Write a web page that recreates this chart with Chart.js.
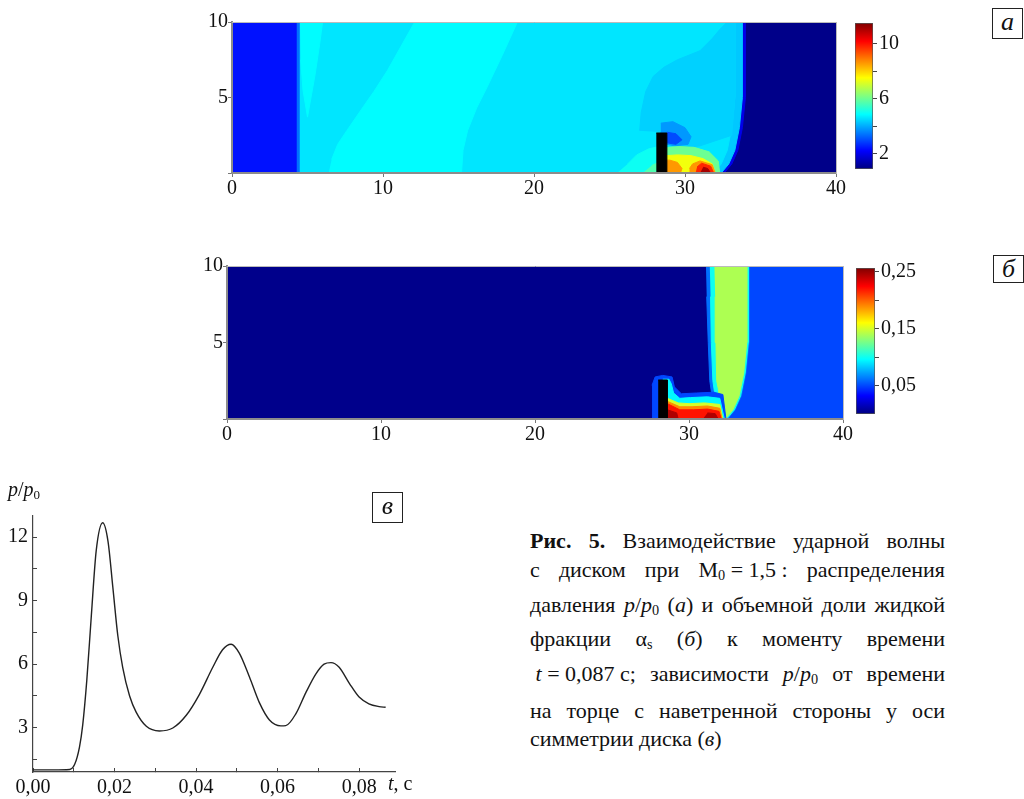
<!DOCTYPE html>
<html lang="ru">
<head>
<meta charset="UTF-8">
<title>Рис. 5</title>
<script src="https://cdn.jsdelivr.net/npm/chart.js@4"></script>
<style>
    body { margin: 0; background: #fff; width: 1024px; height: 799px; position: relative; overflow: hidden;
           font-family: "Liberation Serif", "Times New Roman", serif; color: #111; }
    .wrap { position: absolute; }
    .box { position: absolute; border: 1.5px solid #222; font-style: italic; font-size: 26px;
           text-align: center; line-height: 26px; box-sizing: border-box; }
    .lbl { position: absolute; font-size: 20px; white-space: nowrap; }
    .lbl sub, .cap sub { font-size: 65%; vertical-align: -3px; line-height: 0; }
    .cap { position: absolute; left: 530px; width: 415px; font-size: 22px; line-height: 24px;
           text-align: justify; text-align-last: justify; }
    .f { display: inline-block; white-space: nowrap; }
</style>
</head>
<body>
    <!-- а: давление -->
    <div class="wrap" style="left:190px; top:8px; width:660px; height:192px;"><canvas id="mapA"></canvas></div>
    <div class="wrap" style="left:855px; top:9px; width:68px; height:174px;"><canvas id="barA"></canvas></div>
    <div class="box" style="left:992px; top:8px; width:31px; height:31px;">a</div>

    <!-- б: объемная доля -->
    <div class="wrap" style="left:185px; top:252px; width:670px; height:194px;"><canvas id="mapB"></canvas></div>
    <div class="wrap" style="left:856px; top:254px; width:69px; height:174px;"><canvas id="barB"></canvas></div>
    <div class="box" style="left:993px; top:255px; width:31px; height:28px;">б</div>

    <!-- в: p/p0 от времени -->
    <div class="wrap" style="left:0px; top:495px; width:410px; height:304px;"><canvas id="lineC"></canvas></div>
    <div class="lbl" style="left:8px; top:478px;"><i>p</i>/<i>p</i><sub>0</sub></div>
    <div class="lbl" style="left:388px; top:772px;"><i>t</i>, с</div>
    <div class="box" style="left:372px; top:492px; width:31px; height:31px;">в</div>

    <div class="cap" style="top:529px;"><b>Рис. 5.</b> Взаимодействие ударной волны</div>
    <div class="cap" style="top:558px;">с диском при <span class="f">M<sub>0</sub> = 1,5 :</span> распределения</div>
    <div class="cap" style="top:593px;">давления <span class="f"><i>p</i>/<i>p</i><sub>0</sub></span> (<i>а</i>) и объемной доли жидкой</div>
    <div class="cap" style="top:627px;">фракции α<sub>s</sub> (<i>б</i>) к моменту времени</div>
    <div class="cap" style="top:662px;"><span class="f">&nbsp;<i>t</i> = 0,087 с;</span> зависимости <span class="f"><i>p</i>/<i>p</i><sub>0</sub></span> от времени</div>
    <div class="cap" style="top:699px;">на торце с наветренной стороны у оси</div>
    <div class="cap" style="top:727px; text-align-last:left;">симметрии диска (<i>в</i>)</div>

<script>
// ---- поле давления p/p0 (а): уровни и контуры областей, снизу вверх ----
const pressureMin = 0.9, pressureMax = 11.5;
const pressureLevels = [1.0, 2.0, 4.3, 4.62, 3.4, 2.4, 4.85, 4.85, 4.4, 3.8, 3.0, 5.0, 5.7, 6.0, 7.4, 8.6, 8.6, 9.8, 11.1];
const pressureShapes = [
    [[0,0],[40,0],[40,10],[0,10]],
    [[4,0],[32.6,0],[33.1,0.6],[33.5,1.5],[33.8,3],[34.0,5],[34.0,10],[4,10]],
    [[4,0],[32.4,0],[32.9,0.6],[33.3,1.5],[33.6,3],[33.8,5],[33.8,10],[4,10]],
    [[4,0],[31.9,0],[32.4,0.6],[32.8,1.5],[33.1,3],[33.3,5],[33.3,10],[4,10]],
    [[4.15,0],[4.45,0],[4.45,10],[4.15,10]],
    [[0,0],[4.25,0],[4.25,10],[0,10]],
    [[4.5,10],[6.0,10],[5.8,8.5],[5.5,6.5],[5.0,3.7],[4.7,5.5],[4.55,7.5]],
    [[6.4,0],[15.2,0],[15.3,1.5],[15.6,2.8],[16.2,4.3],[16.9,5.7],[17.9,7.8],[18.9,10],[12.1,10],[11.2,8.4],[10.3,6.8],[9.4,5.4],[8.7,4.4],[7.6,2.8],[7.0,1.9],[6.6,0.9]],
    [[27.0,2.8],[27.1,4.0],[27.4,5.4],[27.9,6.4],[28.6,7.0],[29.5,7.5],[31.0,8.1],[31.8,8.9],[32.3,9.5],[32.8,10],[33.3,10],[33.3,5],[33.1,2.5],[31,1.8],[29.5,1.6],[28.5,2.7]],
    [[28.4,3.3],[29.2,3.4],[30.0,3.0],[30.4,2.4],[30.2,1.9],[29.3,1.8],[28.8,1.9],[28.4,2.7]],
    [[28.8,2.7],[29.4,2.6],[29.8,2.2],[29.4,1.9],[28.8,2.0]],
    [[25.5,0],[28.5,0],[28.5,1.8],[27.6,1.6],[26.8,1.2],[26.2,0.6]],
    [[27.2,0],[28.5,0],[28.5,0.8],[27.8,0.5]],
    [[28.5,0],[32.3,0],[32.2,0.8],[31.6,1.4],[30.6,1.7],[29.6,1.75],[28.9,1.7],[28.5,1.5]],
    [[28.5,0],[32.0,0],[31.8,0.6],[31.2,0.95],[30.4,1.15],[29.5,1.2],[28.8,1.15],[28.5,1.05]],
    [[28.5,0],[29.7,0],[29.8,0.3],[29.5,0.7],[29.0,0.85],[28.5,0.85]],
    [[30.3,0],[32.0,0],[31.8,0.55],[31.0,0.8],[30.5,0.6],[30.3,0.3]],
    [[30.7,0],[31.9,0],[31.7,0.45],[31.1,0.65],[30.8,0.4]],
    [[31.0,0],[31.7,0],[31.5,0.3],[31.2,0.38]]
];
const discA = [[28.1,0],[28.8,0],[28.8,2.65],[28.1,2.65]];

// ---- объемная доля жидкой фракции (б) ----
const fractionMin = 0, fractionMax = 0.257;
const fractionLevels = [0.003, 0.05, 0.06, 0.1, 0.14, 0.05, 0.095, 0.15, 0.19, 0.22, 0.245, 0.245];
const fractionShapes = [
    [[0,0],[40,0],[40,10],[0,10]],
    [[32.2,0],[40,0],[40,10],[33.7,10],[33.7,5],[33.5,3],[33.2,1.5],[32.8,0.6]],
    [[31.1,10],[33.9,10],[33.9,5],[33.7,3],[33.4,1.5],[33.0,0.6],[32.5,0],[31.7,0],[31.6,1.2],[31.45,1.8],[31.35,2.5],[31.25,5],[31.15,8]],
    [[31.35,10],[33.85,10],[33.85,5],[33.65,3],[33.35,1.5],[32.95,0.6],[32.45,0],[31.9,0],[31.8,1.2],[31.65,1.8],[31.55,2.5],[31.45,5],[31.4,8]],
    [[31.65,10],[33.75,10],[33.75,5],[33.55,3],[33.25,1.5],[32.85,0.6],[32.35,0],[32.05,0],[32.0,1.2],[31.9,2.0],[31.8,2.5],[31.75,5],[31.7,8]],
    [[27.6,0],[32.4,0],[32.2,1.6],[31.6,1.75],[30.5,1.7],[29.5,1.65],[29.05,2.1],[28.9,2.75],[28.3,2.85],[27.8,2.75],[27.6,2.2]],
    [[28.3,0],[32.3,0],[32.0,1.35],[31.2,1.45],[30.1,1.4],[29.4,1.35],[29.0,1.7],[28.85,2.3],[28.7,2.6],[28.3,2.6]],
    [[28.6,0],[32.2,0],[32.0,0.95],[31.0,1.05],[30.0,1.0],[29.3,1.05],[28.6,1.35]],
    [[28.6,0],[32.15,0],[32.0,0.7],[31.2,0.85],[30.2,0.8],[29.4,0.8],[28.6,1.15]],
    [[28.6,0],[32.1,0],[31.95,0.5],[31.2,0.65],[30.3,0.6],[29.4,0.6],[28.6,1.0]],
    [[28.6,0],[29.3,0],[29.2,0.4],[28.6,0.6]],
    [[30.9,0],[31.9,0],[31.7,0.35],[31.2,0.4]]
];
const discB = [[28.0,0],[28.6,0],[28.6,2.55],[28.0,2.55]];

const mapXTicks = [0, 10, 20, 30, 40];
const mapYTicks = [0, 5, 10];
const pressureBarTicks = [2, 4, 6, 8, 10];
const pressureBarLabels = [2, 6, 10];
const fractionBarTicks = [0.05, 0.1, 0.15, 0.2, 0.25];
const fractionBarLabels = [0.05, 0.15, 0.25];

// ---- зависимость p/p0 от времени (в) ----
const times = [0, 0.005, 0.009, 0.0102, 0.0114, 0.0122, 0.0132, 0.0143, 0.0155, 0.0171, 0.0184, 0.0196, 0.0208, 0.022,
    0.0237, 0.0253, 0.0278, 0.031, 0.0343, 0.0376, 0.0408, 0.0441, 0.0465, 0.0486, 0.0506, 0.0531, 0.0555, 0.058,
    0.0608, 0.062, 0.0645, 0.0669, 0.0694, 0.0714, 0.0731, 0.0751, 0.0776, 0.08, 0.0824, 0.0849, 0.0865];
const pressureRatio = [1.0, 1.0, 1.02, 1.25, 2.08, 3.13, 5.24, 8.26, 11.35, 12.68, 11.8, 9.6, 7.35, 5.85,
    4.49, 3.73, 3.06, 2.84, 2.98, 3.58, 4.56, 5.85, 6.68, 6.94, 6.52, 5.39, 4.19, 3.36,
    3.08, 3.09, 3.66, 4.64, 5.54, 6.0, 6.07, 5.85, 5.09, 4.44, 4.12, 3.99, 3.96];
const timeTicks = [0, 0.01, 0.02, 0.03, 0.04, 0.05, 0.06, 0.07, 0.08];
const ratioTicks = [1.5, 3, 4.5, 6, 7.5, 9, 10.5, 12];

Chart.defaults.font.family = '"Liberation Serif", "Times New Roman", serif';
Chart.defaults.font.size = 20;
Chart.defaults.color = '#111';

// палитра jet
function jet(f) {
    f = Math.max(0, Math.min(1, f));
    const c = v => Math.round(255 * Math.max(0, Math.min(1, v)));
    return 'rgb(' + c(1.5 - Math.abs(4 * f - 3)) + ',' + c(1.5 - Math.abs(4 * f - 2)) + ',' + c(1.5 - Math.abs(4 * f - 1)) + ')';
}

const comma = v => String(v).replace('.', ',');
const near = (list, v) => list.some(t => Math.abs(t - v) < 1e-9);

function region(shape, color) {
    return {
        data: shape.map(p => ({ x: p[0], y: p[1] })),
        showLine: true, fill: 'shape', pointRadius: 0,
        backgroundColor: color, borderColor: color, borderWidth: 1, tension: 0
    };
}

function drawMap(id, levels, shapes, disc, vmin, vmax, padRight) {
    const sets = shapes.map((s, i) => region(s, jet((levels[i] - vmin) / (vmax - vmin))));
    sets.push(region(disc, '#000'));
    sets.reverse(); // первый набор рисуется последним
    new Chart(document.getElementById(id), {
        type: 'scatter',
        data: { datasets: sets },
        options: {
            animation: false, responsive: true, maintainAspectRatio: false, events: [],
            layout: { padding: { top: 14, right: padRight, left: 0, bottom: 0 } },
            plugins: { legend: { display: false }, tooltip: { enabled: false } },
            scales: {
                x: {
                    type: 'linear', min: 0, max: 40,
                    afterBuildTicks: s => { s.ticks = mapXTicks.map(v => ({ value: v })); },
                    afterFit: s => { s.height = 27; },
                    grid: { drawOnChartArea: false, tickLength: 4, color: '#777' },
                    border: { color: '#8c8c8c', width: 2, z: 1 },
                    ticks: { padding: 0, maxRotation: 0 }
                },
                y: {
                    type: 'linear', min: 0, max: 10,
                    afterBuildTicks: s => { s.ticks = mapYTicks.map(v => ({ value: v })); },
                    afterFit: s => { s.width = 42; },
                    grid: { drawOnChartArea: false, tickLength: 4, color: '#777' },
                    border: { color: '#8c8c8c', width: 2, z: 1 },
                    ticks: { padding: 0, callback: v => v === 0 ? '' : v }
                },
                x2: {
                    type: 'linear', position: 'top', min: 0, max: 40,
                    grid: { display: false }, ticks: { display: false },
                    border: { color: '#bbb', dash: [1, 2], z: 1 },
                    afterFit: s => { s.height = 0; }
                },
                y2: {
                    type: 'linear', position: 'right', min: 0, max: 10,
                    grid: { display: false }, ticks: { display: false },
                    border: { color: '#bbb', dash: [1, 2], z: 1 },
                    afterFit: s => { s.width = 0; }
                }
            }
        }
    });
}

function drawColorbar(id, vmin, vmax, ticks, labels) {
    new Chart(document.getElementById(id), {
        type: 'bar',
        data: {
            labels: [''],
            datasets: [{
                data: [[vmin, vmax]],
                backgroundColor: c => {
                    const { ctx, chartArea, scales } = c.chart;
                    if (!chartArea) return null;
                    const g = ctx.createLinearGradient(0, scales.y.getPixelForValue(vmin), 0, scales.y.getPixelForValue(vmax));
                    for (let i = 0; i <= 32; i++) g.addColorStop(i / 32, jet(i / 32));
                    return g;
                },
                borderColor: '#555', borderWidth: 1, borderSkipped: false,
                barPercentage: 1, categoryPercentage: 1
            }]
        },
        options: {
            animation: false, responsive: true, maintainAspectRatio: false, events: [],
            layout: { padding: { top: 10, bottom: 10, left: 0, right: 0 } },
            plugins: { legend: { display: false }, tooltip: { enabled: false } },
            scales: {
                x: { display: false },
                y: {
                    position: 'right', min: vmin, max: vmax,
                    afterBuildTicks: s => { s.ticks = ticks.map(v => ({ value: v })); },
                    afterFit: s => { s.width = 50; },
                    grid: { drawOnChartArea: false, tickLength: 4, color: '#444' },
                    border: { display: false },
                    ticks: { padding: 2, callback: v => near(labels, v) ? comma(v) : '' }
                }
            }
        }
    });
}

drawMap('mapA', pressureLevels, pressureShapes, discA, pressureMin, pressureMax, 14);
drawMap('mapB', fractionLevels, fractionShapes, discB, fractionMin, fractionMax, 12);
drawColorbar('barA', pressureMin, pressureMax, pressureBarTicks, pressureBarLabels);
drawColorbar('barB', fractionMin, fractionMax, fractionBarTicks, fractionBarLabels);

// график в
new Chart(document.getElementById('lineC'), {
    type: 'line',
    data: {
        datasets: [{
            data: times.map((t, i) => ({ x: t, y: pressureRatio[i] })),
            borderColor: '#222', borderWidth: 1.4, pointRadius: 0,
            cubicInterpolationMode: 'monotone', fill: false
        }]
    },
    options: {
        animation: false, responsive: true, maintainAspectRatio: false, events: [],
        layout: { padding: { top: 10, right: 15, left: 0, bottom: 0 } },
        plugins: { legend: { display: false }, tooltip: { enabled: false } },
        scales: {
            x: {
                type: 'linear', min: 0, max: 0.0888,
                afterBuildTicks: s => { s.ticks = timeTicks.map(v => ({ value: v })); },
                afterFit: s => { s.height = 27; },
                grid: { drawOnChartArea: false, tickLength: -4, color: '#444' },
                border: { color: '#444', width: 1.2 },
                ticks: {
                    padding: 8, maxRotation: 0, autoSkip: false,
                    callback: v => Math.round(v * 100) % 2 === 0 ? v.toFixed(2).replace('.', ',') : ''
                }
            },
            y: {
                type: 'linear', min: 0.9, max: 13,
                afterBuildTicks: s => { s.ticks = ratioTicks.map(v => ({ value: v })); },
                afterFit: s => { s.width = 33; },
                grid: { drawOnChartArea: false, tickLength: -4, color: '#444' },
                border: { color: '#444', width: 1.2 },
                ticks: { padding: 9, autoSkip: false, callback: v => v % 3 === 0 ? v : '' }
            }
        }
    }
});
</script>
</body>
</html>
